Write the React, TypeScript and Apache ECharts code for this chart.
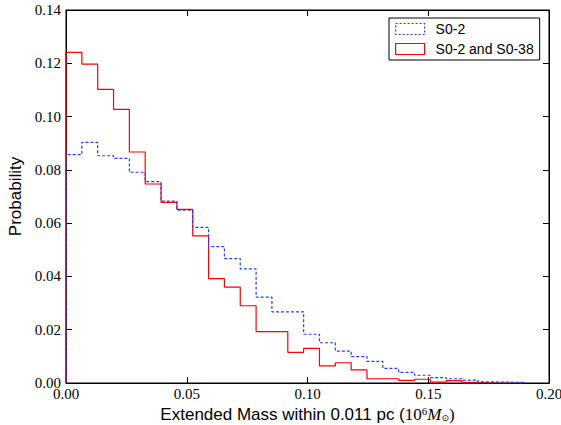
import React, { useEffect, useRef } from "react";
import * as echarts from "echarts";

// Histogram bin width (in 10^6 solar masses) and per-bin probabilities
const binWidth = 0.00656;
const seriesNames = ["S0-2", "S0-2 and S0-38"];
const s02Values = [
  0.0857, 0.0903, 0.0853, 0.0843, 0.0791, 0.0756, 0.0683, 0.0649, 0.0584, 0.0512,
  0.0467, 0.0428, 0.0322, 0.0267, 0.0267, 0.0183, 0.0151, 0.012, 0.0099, 0.0081,
  0.0055, 0.004, 0.0029, 0.002, 0.0016, 0.0011, 0.0004, 0.0003, 0.0002,
];
const s02s038Values = [
  0.1241, 0.1197, 0.1102, 0.1027, 0.0867, 0.0747, 0.0678, 0.0652, 0.0552, 0.0392,
  0.036, 0.029, 0.0193, 0.0193, 0.0115, 0.013, 0.0064, 0.0076, 0.0049, 0.0016,
  0.0016, 0.001, 0.0014, 0.0003, 0.0009, 0.0002, 0, 0, 0,
];
const xTicks = [0, 0.05, 0.1, 0.15, 0.2];
const yTicks = [0, 0.02, 0.04, 0.06, 0.08, 0.1, 0.12, 0.14];

function stepData(values: number[]): number[][] {
  const pts: number[][] = [[0, 0]];
  values.forEach((v, i) => pts.push([i * binWidth, v]));
  const end = values.length * binWidth;
  pts.push([end, values[values.length - 1]]);
  pts.push([end, 0]);
  return pts;
}

const serif = "'Liberation Serif', 'DejaVu Serif', serif";
const sans = "'Liberation Sans', Arial, sans-serif";

export default function App() {
  const ref = useRef<HTMLDivElement>(null);
  useEffect(() => {
    if (!ref.current) return;
    const chart = echarts.init(ref.current, undefined, { renderer: "svg" });
    const xMin = xTicks[0];
    const xMax = xTicks[xTicks.length - 1];
    const xInt = xTicks[1] - xTicks[0];
    const yMin = yTicks[0];
    const yMax = yTicks[yTicks.length - 1];
    const yInt = yTicks[1] - yTicks[0];
    const axisLine = { show: true, onZero: false, lineStyle: { color: "#000", width: 1 } };
    const tick = { show: true, inside: true, length: 6, lineStyle: { color: "#000", width: 1 } };
    const label = {
      color: "#000",
      fontFamily: serif,
      fontSize: 15,
      formatter: (v: number) => v.toFixed(2),
    };
    chart.setOption({
      animation: false,
      backgroundColor: "#fff",
      grid: {
        left: 66,
        right: 12,
        top: 10,
        bottom: 42,
        containLabel: false,
        outerBoundsMode: "none",
        show: true,
        borderColor: "#000",
        borderWidth: 1,
        backgroundColor: "rgba(0,0,0,0)",
      },
      legend: {
        orient: "vertical",
        left: 389,
        top: 18,
        padding: [4, 6, 4, 6],
        itemGap: 6,
        itemWidth: 29,
        itemHeight: 11,
        borderColor: "#000",
        borderWidth: 1,
        borderRadius: 0,
        backgroundColor: "#fff",
        textStyle: { fontFamily: sans, fontSize: 14, color: "#000", padding: [0, 0, 0, 6] },
        data: [
          {
            name: seriesNames[0],
            icon: "rect",
            itemStyle: { color: "rgba(0,0,0,0)", borderColor: "#2040ff", borderWidth: 1.2, borderType: [2, 2] },
          },
          {
            name: seriesNames[1],
            icon: "rect",
            itemStyle: { color: "rgba(0,0,0,0)", borderColor: "#ff0000", borderWidth: 1.2, borderType: "solid" },
          },
        ],
      },
      xAxis: [
        {
          type: "value",
          position: "bottom",
          min: xMin,
          max: xMax,
          interval: xInt,
          axisLine,
          axisTick: tick,
          splitLine: { show: false },
          axisLabel: { ...label, margin: 3, showMaxLabel: true },
          name: "Extended Mass within 0.011 pc ({m|10}{sup|6}{mi|M}{sub|⊙}{m|)}",
          nameLocation: "middle",
          nameGap: 16,
          nameTextStyle: {
            fontFamily: sans,
            fontSize: 17,
            color: "#000",
            rich: {
              m: { fontFamily: serif, fontSize: 17, color: "#000" },
              sup: { fontFamily: serif, fontSize: 11, color: "#000", verticalAlign: "top", padding: [0, 0, 6, 0] },
              mi: { fontFamily: serif, fontStyle: "italic", fontSize: 17, color: "#000" },
              sub: { fontFamily: "'DejaVu Sans', sans-serif", fontSize: 9, color: "#000", verticalAlign: "bottom", padding: [4, 0, 0, 0] },
            },
          },
        },
        {
          type: "value",
          position: "top",
          min: xMin,
          max: xMax,
          interval: xInt,
          axisLine,
          axisTick: tick,
          splitLine: { show: false },
          axisLabel: { show: false },
        },
      ],
      yAxis: [
        {
          type: "value",
          position: "left",
          min: yMin,
          max: yMax,
          interval: yInt,
          axisLine,
          axisTick: tick,
          splitLine: { show: false },
          axisLabel: { ...label, margin: 5 },
          name: "Probability",
          nameLocation: "middle",
          nameGap: 35,
          nameRotate: 90,
          nameTextStyle: { fontFamily: sans, fontSize: 17, color: "#000" },
        },
        {
          type: "value",
          position: "right",
          min: yMin,
          max: yMax,
          interval: yInt,
          axisLine,
          axisTick: tick,
          splitLine: { show: false },
          axisLabel: { show: false },
        },
      ],
      series: [
        {
          name: seriesNames[1],
          type: "line",
          step: "end",
          showSymbol: false,
          symbol: "none",
          xAxisIndex: 0,
          yAxisIndex: 0,
          data: stepData(s02s038Values),
          lineStyle: { color: "#ff0000", width: 1.2 },
          itemStyle: { color: "#ff0000" },
          z: 2,
        },
        {
          name: seriesNames[0],
          type: "line",
          step: "end",
          showSymbol: false,
          symbol: "none",
          xAxisIndex: 0,
          yAxisIndex: 0,
          data: stepData(s02Values),
          lineStyle: { color: "#2040ff", width: 1.2, type: [3, 2] },
          itemStyle: { color: "#2040ff" },
          z: 3,
        },
      ],
    });
    return () => chart.dispose();
  }, []);
  return (
    <div
      ref={ref}
      style={{ position: "fixed", left: 0, top: 0, width: 561, height: 425, overflow: "hidden" }}
    />
  );
}
